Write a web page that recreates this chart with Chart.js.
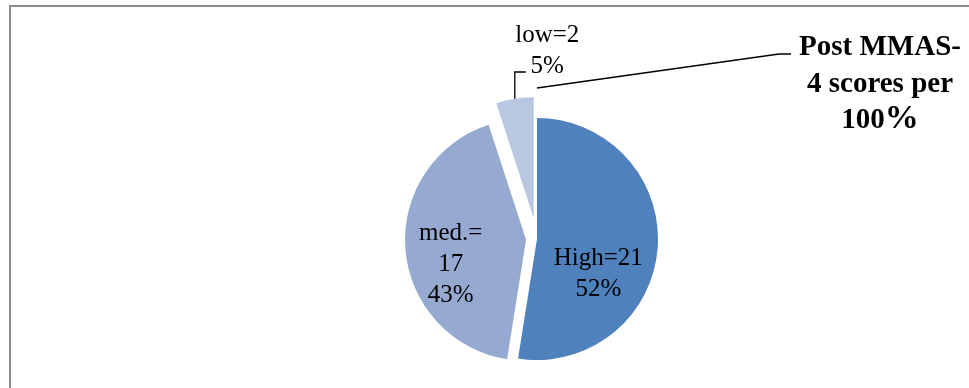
<!DOCTYPE html>
<html>
<head>
<meta charset="utf-8">
<script src="https://cdn.jsdelivr.net/npm/chart.js@4.4.1/dist/chart.umd.min.js"></script>
<style>
  html, body { margin: 0; padding: 0; background: #fff; }
  #wrap { position: relative; width: 969px; height: 388px; }
</style>
</head>
<body>
<div id="wrap"><canvas id="c" width="969" height="388"></canvas></div>
<script>
// MMAS-4 adherence groups after the intervention
const categories = ['High', 'med.', 'low'];
const counts = [21, 17, 2];
const percentLabels = ['52%', '43%', '5%'];
const titleLines = ['Post MMAS-', '4 scores per', '100%'];

// text shown inside / beside each slice
const sliceLabelLines = [
  [categories[0] + '=' + counts[0], percentLabels[0]],
  [categories[1] + '=', String(counts[1]), percentLabels[1]],
  [categories[2] + '=' + counts[2], percentLabels[2]]
];

// styling
const sliceColors = ['#4F81BD', '#95A9D1', '#B9C7E1'];
const explodeBy = [0, 11, 21];          // px each slice is pulled out along its mid-angle
const labelNudge = [[1, 37], [-15, 26], [23, -101]];
const serif = '"Liberation Serif", "Times New Roman", serif';
const lineH = 31;

// pull slices out from the centre after the library lays them out
const explodePlugin = {
  id: 'explode',
  afterUpdate(chart) {
    const meta = chart.getDatasetMeta(0);
    meta.data.forEach((arc, i) => {
      const mid = (arc.startAngle + arc.endAngle) / 2;
      arc.x += Math.cos(mid) * explodeBy[i];
      arc.y += Math.sin(mid) * explodeBy[i];
    });
  }
};

// outer frame of the figure
const framePlugin = {
  id: 'frame',
  beforeDraw(chart) {
    const ctx = chart.ctx;
    ctx.save();
    ctx.fillStyle = '#ffffff';
    ctx.fillRect(0, 0, chart.width, chart.height);
    ctx.fillStyle = '#8c8c8c';
    ctx.fillRect(9, 5, 2, chart.height - 5);
    ctx.fillRect(9, 5, chart.width - 9, 2);
    ctx.restore();
  }
};

// slice labels, leader lines and the title block
const labelPlugin = {
  id: 'sliceLabels',
  afterDatasetsDraw(chart) {
    const ctx = chart.ctx;
    const meta = chart.getDatasetMeta(0);
    ctx.save();
    ctx.fillStyle = '#000';
    ctx.textAlign = 'center';
    ctx.textBaseline = 'alphabetic';
    ctx.font = '25px ' + serif;

    const anchors = meta.data.map((arc, i) => {
      const p = arc.tooltipPosition();
      return { x: p.x + labelNudge[i][0], y: p.y + labelNudge[i][1] };
    });

    sliceLabelLines.forEach((lines, i) => {
      const a = anchors[i];
      lines.forEach((t, k) => {
        ctx.fillText(t, a.x, a.y + (k - (lines.length - 1) / 2) * lineH);
      });
    });

    // leader from the small slice up to its label
    const low = meta.data[2];
    const lowMid = (low.startAngle + low.endAngle) / 2;
    const ox = low.x + Math.cos(lowMid) * low.outerRadius;
    const oy = low.y + Math.sin(lowMid) * low.outerRadius;
    const lowLast = anchors[2].y + (sliceLabelLines[2].length - 1) / 2 * lineH - 1;
    ctx.strokeStyle = '#000';
    ctx.lineWidth = 1.3;
    ctx.beginPath();
    ctx.moveTo(ox, oy);
    ctx.lineTo(ox, lowLast);
    ctx.lineTo(ox + 11, lowLast);
    ctx.stroke();

    // title block
    const tx = 880;
    const tBase = [55, 92, 128];
    ctx.font = 'bold 29px ' + serif;
    ctx.fillText(titleLines[0], tx, tBase[0]);
    ctx.fillText(titleLines[1], tx, tBase[1]);
    // last line: digits with a larger percent sign
    const num = titleLines[2].replace('%', '');
    const wNum = ctx.measureText(num).width;
    ctx.font = 'bold 34px ' + serif;
    const wPct = ctx.measureText('%').width;
    const startX = tx - (wNum + wPct) / 2;
    ctx.textAlign = 'left';
    ctx.font = 'bold 29px ' + serif;
    ctx.fillText(num, startX, tBase[2]);
    ctx.font = 'bold 34px ' + serif;
    ctx.fillText('%', startX + wNum, tBase[2]);

    // leader from the title toward the pie
    ctx.font = 'bold 29px ' + serif;
    const titleLeft = tx - ctx.measureText(titleLines[0]).width / 2;
    const high = meta.data[0];
    ctx.beginPath();
    ctx.moveTo(high.x, high.y - high.outerRadius - 30);
    ctx.lineTo(titleLeft - 20, tBase[0] - 1);
    ctx.lineTo(titleLeft - 8, tBase[0] - 1);
    ctx.stroke();
    ctx.restore();
  }
};

new Chart(document.getElementById('c'), {
  type: 'pie',
  data: {
    labels: categories,
    datasets: [{
      data: counts,
      backgroundColor: sliceColors,
      borderWidth: 0,
      radius: 121
    }]
  },
  options: {
    responsive: false,
    animation: false,
    events: [],
    layout: { padding: { left: 105, top: 90, right: 0, bottom: 0 } },
    plugins: {
      legend: { display: false },
      tooltip: { enabled: false },
      title: { display: false }
    }
  },
  plugins: [framePlugin, explodePlugin, labelPlugin]
});
</script>
</body>
</html>
